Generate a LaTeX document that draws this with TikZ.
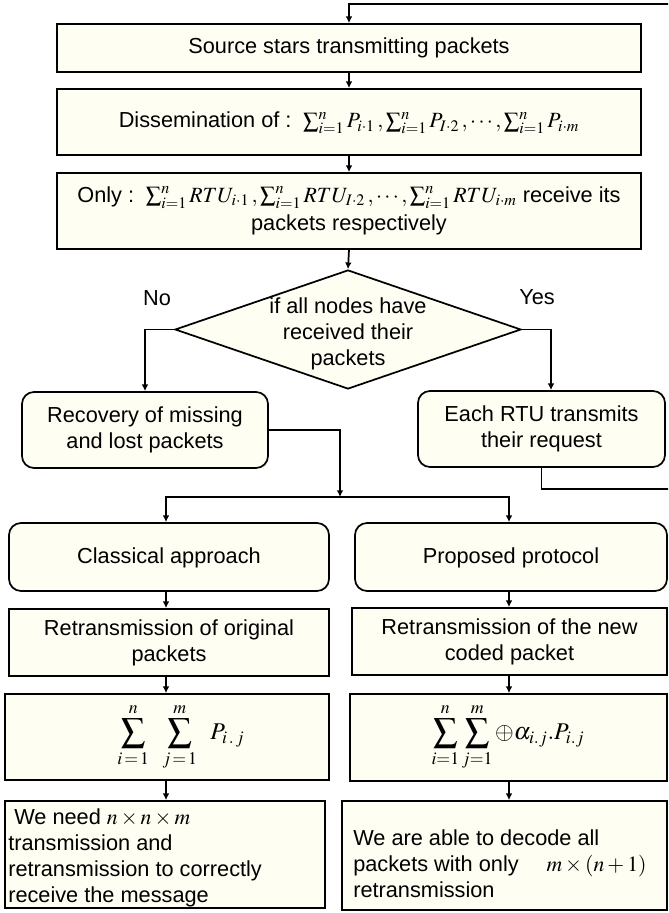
\documentclass[tikz,border=0pt]{standalone}
\usepackage{mathptmx}
\usepackage[no-math]{fontspec}
\setmainfont{Liberation Sans}
\usetikzlibrary{shapes.geometric,arrows.meta,fit,calc}
\definecolor{ivory}{RGB}{254,254,242}
\tikzset{
  every node/.style={font=\fontsize{16.3}{19.5}\selectfont},
  box/.style={draw, fill=ivory, line width=1.3pt, inner sep=0pt},
  rbox/.style={box, rounded corners=9pt},
  txt/.style={align=center, inner sep=0pt},
  arr/.style={line width=1.3pt, -{Latex[length=5pt,width=5pt]}},
}
\begin{document}
\begin{tikzpicture}[x=0.75pt,y=-0.75pt]
\clip (0,0) rectangle (668,913);
% top column
\node[box, fit={(57,24)(641,72)}] (b1) {};
\node[txt] (b1t) at (b1.center) {Source stars transmitting packets};
\node[box, fit={(57,89)(641,155)}] (b2) {};
\node[txt] (b2t) at (349,123) {Dissemination of :\, $\sum_{i=1}^{n}P_{i\cdot 1}\,,\sum_{i=1}^{n}P_{I\cdot 2}\,,\cdots,\sum_{i=1}^{n}P_{i\cdot m}$};
\node[box, fit={(57,173)(641,249)}] (b3) {};
\node[txt] (b3t) at (349,211) {Only :\, $\sum_{i=1}^{n}RTU_{i\cdot 1}\,,\sum_{i=1}^{n}RTU_{I\cdot 2}\,,\cdots,\sum_{i=1}^{n}RTU_{i\cdot m}$ receive its\\[2pt] packets respectively};
% decision
\node[diamond, draw, fill=ivory, line width=1.3pt, inner sep=0pt,
      minimum width=259.5pt, minimum height=89.25pt] (dec) at (348,329.5) {};
\node[txt] (dect) at (348,334) {if all nodes have\\ received their\\ packets};
\node (no) at (157,298) {No};
\node (yes) at (537,297) {Yes};
% second level
\node[rbox, fit={(22,392)(268,468)}] (rec) {};
\node[txt] (rect) at (rec.center) {Recovery of missing\\ and lost packets};
\node[rbox, fit={(418,391)(665,467)}] (rtu) {};
\node[txt] (rtut) at (rtu.center) {Each RTU transmits\\ their request};
% methods
\node[rbox, fit={(9,523)(329,591)}] (cls) {};
\node[txt] (clst) at (169,558) {Classical approach};
\node[rbox, fit={(355,523)(667,591)}] (pro) {};
\node[txt] (prot) at (511,558) {Proposed protocol};
\node[box, fit={(9,609)(329,676)}] (rt1) {};
\node[txt] (rt1t) at (rt1.center) {Retransmission of original\\ packets};
\node[box, fit={(352,608)(667,675)}] (rt2) {};
\node[txt] (rt2t) at (rt2.center) {Retransmission of the new\\ coded packet};
\node[box, fit={(5,694)(329,780)}] (s1) {};
\node[txt] (s1t) at (181,737) {\fontsize{18}{20}\selectfont$\displaystyle\sum_{i\,=\,1}^{n}\;\;\sum_{j\,=\,1}^{m}\;\;P_{i\,.\,j}$};
\node[box, fit={(350,694)(667,781)}] (s2) {};
\node[txt] (s2t) at (508,737) {\fontsize{18}{20}\selectfont$\displaystyle\sum_{i=1}^{n}\sum_{j=1}^{m}\oplus\alpha_{i.j}.P_{i.j}$};
\node[box, fit={(5,801)(325,908)}] (r1) {};
\node[anchor=west, align=left, inner sep=0pt] (r1t) at (8,858) {\ We need $n\times n\times m$\\ transmission and\\ retransmission to correctly\\ receive the message};
\node[box, fit={(342,801)(667,910)}] (r2) {};
\node[anchor=west, align=left, inner sep=0pt] (r2t) at (353,864) {We are able to decode all\\ packets with only \quad $m\times(n+1)$\\ retransmission};
% coordinates
\coordinate (fbR) at (672,489);
\coordinate (fbT) at (672,4);
\coordinate (yx) at (551,0);
\coordinate (jn) at (340,497);
\coordinate (lc) at (166,0);
\coordinate (rc) at (509,0);
% connectors
\draw[arr] (rtu.south) |- (fbR) -- (fbT) -| (b1.north);
\draw[arr] (b1.south) -- (b2.north);
\draw[arr] (b2.south) -- (b3.north);
\draw[arr] (b3.south) -- (dec.north);
\draw[arr] (dec.west) -| (rec.north);
\draw[arr] (dec.east) -| (yx |- rtu.north);
\draw[arr] (rec.east) -| (jn);
\draw[arr] (jn) -| (lc |- cls.north);
\draw[arr] (jn) -| (rc |- pro.north);
\draw[arr] (lc |- cls.south) -- (lc |- rt1.north);
\draw[arr] (lc |- rt1.south) -- (lc |- s1.north);
\draw[arr] (lc |- s1.south) -- (lc |- r1.north);
\draw[arr] (rc |- pro.south) -- (rc |- rt2.north);
\draw[arr] (rc |- rt2.south) -- (rc |- s2.north);
\draw[arr] (rc |- s2.south) -- (rc |- r2.north);
\end{tikzpicture}
\end{document}
